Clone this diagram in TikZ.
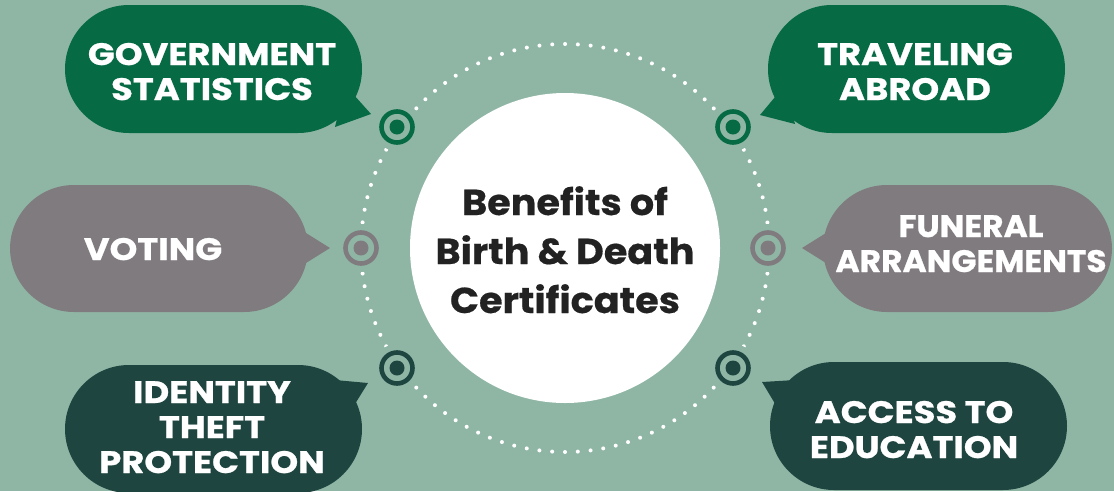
\documentclass[tikz,border=0pt]{standalone}
\usepackage{fontspec}
\setmainfont{Poppins}
\usetikzlibrary{calc}
\begin{document}
\begin{tikzpicture}[x=1pt,y=-1pt]
\definecolor{bg}{HTML}{8FB6A5}
\definecolor{gr}{HTML}{066A44}
\definecolor{gy}{HTML}{807B7E}
\definecolor{dk}{HTML}{1F4540}
\definecolor{tx}{HTML}{222222}
\tikzset{
  lbl/.style={text=white, align=center, font=\bfseries\fontsize{31}{35}\selectfont\addfontfeature{FakeStretch=1.14,FakeBold=0.8}, inner sep=0pt, anchor=base},
  target/.style={circle, draw=#1, line width=4.6pt, minimum size=31pt, inner sep=0pt,
     path picture={\fill[#1] (path picture bounding box.center) circle (7.5pt);}},
  gapfill/.style={fill=bg}
}
\useasboundingbox (0,0) rectangle (1114,491);
\fill[bg] (0,0) rectangle (1114,491);
\clip (0,0) rectangle (1114,491);
% dotted ring
\draw[white, line width=4pt, line cap=round, dash pattern=on 0pt off 12.82pt] (565,248) circle (204);
% centre
\node[circle, fill=white, minimum size=310pt, inner sep=0pt] (c) at (565,248) {};
\node[text=tx, align=center, font=\bfseries\fontsize{36}{49}\selectfont\addfontfeature{FakeStretch=1.06,FakeBold=0.5}, inner sep=0pt, anchor=base] (ct) at (565,313) {Benefits of\\Birth \& Death\\Certificates};
% bubbles
\fill[gr, rounded corners=64pt] (65,5) rectangle (362,133);
\fill[gr] (345,85) -- (371,114) -- (335,127) -- cycle;
\fill[gr, rounded corners=64pt] (768,5) rectangle (1065,133);
\fill[gr] (785,85) -- (760,115) -- (795,124) -- cycle;
\fill[gy, rounded corners=64pt] (10,185) rectangle (308,312);
\fill[gy] (298,228) -- (330,248) -- (298,268) -- cycle;
\fill[gy, rounded corners=64pt] (823,185) rectangle (1112,312);
\fill[gy] (834,228) -- (802,248) -- (834,268) -- cycle;
\fill[dk, rounded corners=64pt] (65,365) rectangle (362,493);
\fill[dk] (335,380) -- (368,383) -- (350,412) -- cycle;
\fill[dk, rounded corners=64pt] (770,362) rectangle (1067,490);
\fill[dk] (795,380) -- (762,382) -- (780,412) -- cycle;
% target gaps and targets
\foreach \p in {(397,127),(733,127),(361,248),(768,248),(397,368),(733,368)} \fill[bg] \p circle (24pt);
\node[target=gr] (t1) at (397,127) {};
\node[target=gr] (t2) at (733,127) {};
\node[target=gy] (t3) at (361,248) {};
\node[target=gy] (t4) at (768,248) {};
\node[target=dk] (t5) at (397,368) {};
\node[target=dk] (t6) at (733,368) {};
% labels
\node[lbl] (l1) at (212,100) {GOVERNMENT\\STATISTICS};
\node[lbl] (l2) at (915,100) {TRAVELING\\ABROAD};
\node[lbl] (l3) at (153,260) {VOTING};
\node[lbl, font=\bfseries\fontsize{31}{35}\selectfont\addfontfeature{FakeStretch=1.06,FakeBold=0.8}] (l4) at (971,272) {FUNERAL\\ARRANGEMENTS};
\node[lbl] (l5) at (212,473) {IDENTITY\\THEFT\\PROTECTION};
\node[lbl] (l6) at (914,458) {ACCESS TO\\EDUCATION};
\end{tikzpicture}
\end{document}
